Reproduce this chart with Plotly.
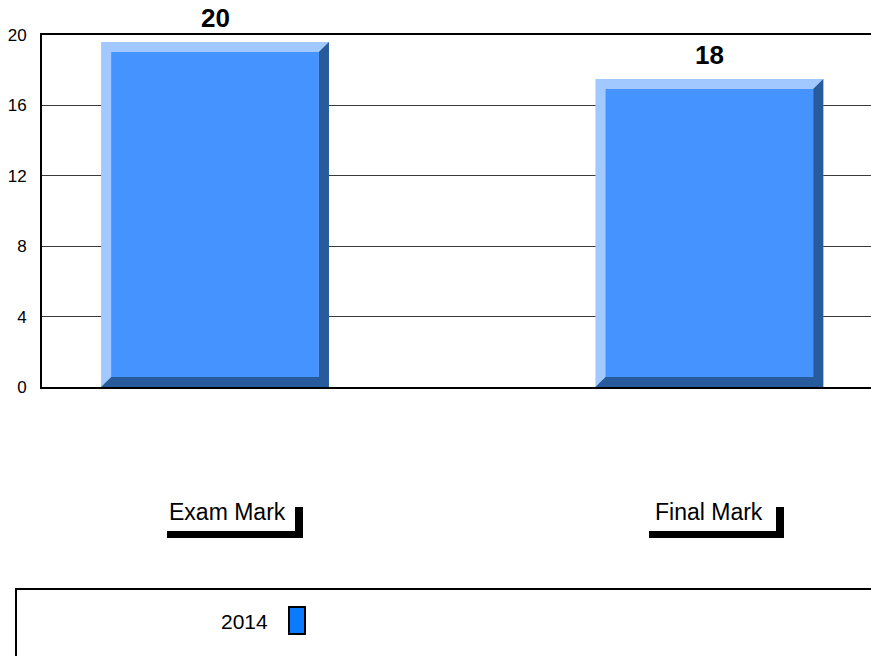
import plotly.graph_objects as go

categories = ["Exam Mark", "Final Mark"]
values = [19.6, 17.5]
value_labels = ["20", "18"]
series_name = "2014"
y_ticks = [0, 4, 8, 12, 16, 20]

W, H = 871, 656
LIGHT = "#a2c9ff"
MAIN = "#4493ff"
DARK = "#285b9c"

def px(x):
    return x / W

def py(y):
    return 1 - y / H

fig = go.Figure()
half = 0.2305
dx = 0.0205
dy = 0.57
positions = list(range(len(categories)))
for c, v in zip(positions, values):
    # light outer bevel
    fig.add_trace(go.Scatter(
        x=[c - half, c - half, c + half, c + half, c - half],
        y=[0, v, v, 0, 0], fill="toself", fillcolor=LIGHT, mode="none",
        hoverinfo="skip", showlegend=False))
    # dark bevel (right + bottom)
    fig.add_trace(go.Scatter(
        x=[c - half, c + half, c + half, c + half - dx, c + half - dx, c - half + dx, c - half],
        y=[0, 0, v, v - dy, dy, dy, 0], fill="toself", fillcolor=DARK, mode="none",
        hoverinfo="skip", showlegend=False))
    # main face
    fig.add_trace(go.Scatter(
        x=[c - half + dx, c - half + dx, c + half - dx, c + half - dx, c - half + dx],
        y=[dy, v - dy, v - dy, dy, dy], fill="toself", fillcolor=MAIN, mode="none",
        name=series_name, showlegend=False))

annotations = []
for c, v, t in zip(positions, values, value_labels):
    annotations.append(dict(x=c, y=v, xref="x", yref="y", text="<b>%s</b>" % t,
                            showarrow=False, yanchor="bottom", yshift=7,
                            font=dict(family="Liberation Sans, Arial", size=26, color="#000")))

label_shift = [12, 0]
for c, name, s in zip(positions, categories, label_shift):
    annotations.append(dict(x=c, y=py(512), xref="x", yref="paper", text=name,
                            showarrow=False, yanchor="middle", xanchor="center", xshift=s,
                            font=dict(family="Liberation Sans, Arial", size=23, color="#000")))

# legend text
annotations.append(dict(x=px(244), y=py(621), xref="paper", yref="paper", text=series_name,
                        showarrow=False, xanchor="center", yanchor="middle",
                        font=dict(family="Liberation Sans, Arial", size=21, color="#000")))

shapes = []
# L-shaped underlines
for x0, x1 in [(167, 303), (649, 784)]:
    shapes.append(dict(type="rect", xref="paper", yref="paper",
                       x0=px(x0), x1=px(x1), y0=py(538), y1=py(531),
                       fillcolor="#000", line=dict(width=0)))
    shapes.append(dict(type="rect", xref="paper", yref="paper",
                       x0=px(x1 - 8), x1=px(x1), y0=py(538), y1=py(507),
                       fillcolor="#000", line=dict(width=0)))
# legend box
shapes.append(dict(type="rect", xref="paper", yref="paper",
                   x0=px(16), x1=px(880), y0=py(670), y1=py(589),
                   fillcolor="rgba(0,0,0,0)", line=dict(color="#000", width=2)))
# legend swatch
shapes.append(dict(type="rect", xref="paper", yref="paper",
                   x0=px(289), x1=px(305), y0=py(634), y1=py(607),
                   fillcolor="#0a7bff", line=dict(color="#000", width=2)))

fig.update_layout(
    width=W, height=H,
    margin=dict(l=0, r=0, t=0, b=0, pad=0, autoexpand=False),
    paper_bgcolor="white", plot_bgcolor="white",
    showlegend=False,
    xaxis=dict(domain=[px(42), 1], range=[-0.35, 1.327], showticklabels=False,
               showgrid=False, zeroline=False, showline=True, mirror=True,
               linecolor="#000", linewidth=2, ticks="", fixedrange=True,
               automargin=False),
    yaxis=dict(domain=[py(387), py(35)], range=[0, 20], tickvals=y_ticks,
               ticktext=[str(t) for t in y_ticks], showgrid=True, gridcolor="#3a3a3a",
               gridwidth=1, zeroline=False, showline=True, linecolor="#000",
               linewidth=2, ticks="", ticklabelstandoff=10, automargin=False,
               tickfont=dict(family="Liberation Sans, Arial", size=17, color="#000")),
    annotations=annotations,
    shapes=shapes,
)

fig.write_html("out.html", config={"displayModeBar": False},
               post_script="document.body.style.margin='0';")
